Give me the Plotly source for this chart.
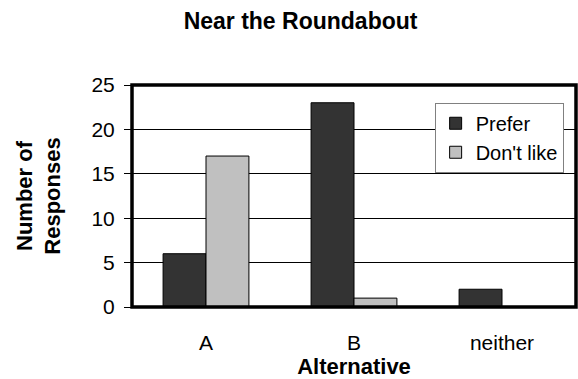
import plotly.graph_objects as go

categories = ["A", "B", "neither"]
prefer = [6, 23, 2]
dont_like = [17, 1, 0]
series_names = ["Prefer", "Don't like"]
y_ticks = [0, 5, 10, 15, 20, 25]

FONT = "Arial, Liberation Sans, sans-serif"

fig = go.Figure()
fig.add_trace(go.Bar(x=categories, y=prefer, name=series_names[0],
                     marker=dict(color="#333333", line=dict(color="black", width=1))))
fig.add_trace(go.Bar(x=categories, y=dont_like, name=series_names[1],
                     marker=dict(color="#C0C0C0", line=dict(color="black", width=1))))

fig.update_layout(
    width=578, height=379,
    margin=dict(l=132, r=2, t=85, b=72),
    paper_bgcolor="white", plot_bgcolor="white",
    barmode="group", bargap=0.42, bargroupgap=0,
    font=dict(family=FONT, size=21, color="black"),
    title=dict(text="<b>Near the Roundabout</b>", x=0.52, xref="container",
               y=1 - 21 / 379, yref="container", xanchor="center", yanchor="middle",
               font=dict(size=23, family=FONT, color="black")),
    showlegend=True,
    legend=dict(x=0.6816, y=0.92, xanchor="left", yanchor="top",
                bgcolor="white", bordercolor="#808080", borderwidth=1,
                itemwidth=30, tracegroupgap=0,
                font=dict(size=20, family=FONT, color="black")),
    xaxis=dict(showgrid=False, ticks="", showline=False, ticklabelstandoff=21,
               tickfont=dict(size=21),
               title=dict(text="<b>Alternative</b>", standoff=4,
                          font=dict(size=22, family=FONT))),
    yaxis=dict(range=[0, 25], tickvals=y_ticks, ticks="outside", ticklen=7,
               tickcolor="black", tickwidth=1, showgrid=True, gridcolor="black",
               gridwidth=1, zeroline=False, showline=False, tickfont=dict(size=21),
               ticklabelstandoff=5,
               title=dict(text="<b>Number of<br>Responses</b>", standoff=24,
                          font=dict(size=22, family=FONT))),
    shapes=[dict(type="rect", xref="paper", yref="paper", x0=0, y0=0, x1=1, y1=1,
                 line=dict(color="black", width=3.5), layer="above")],
)

fig.write_html("out.html")
